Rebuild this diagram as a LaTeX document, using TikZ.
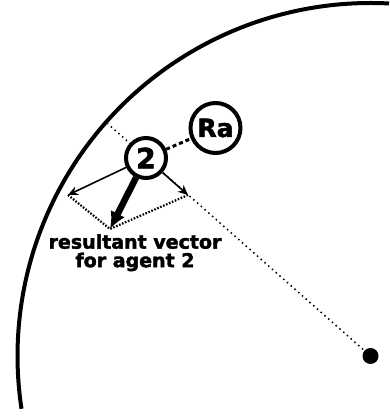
\documentclass[tikz,border=0pt]{standalone}
\usepackage{fontspec}
\newfontfamily\heavyfont[BoldFeatures={FakeBold=2}]{DejaVu Sans}
\usetikzlibrary{arrows.meta}
\definecolor{figline}{RGB}{0,0,0}
\tikzset{
  rim/.style ={draw=figline, line width=4pt},
  agt/.style ={circle, draw=figline, fill=white, line width=4pt, inner sep=0pt,
               font=\heavyfont\bfseries\fontsize{28}{28}\selectfont},
  vec/.style ={draw=figline, line width=1.6pt, -{Stealth[length=10pt,width=9pt]}},
  res/.style ={draw=figline, line width=6.5pt, -{Latex[length=17pt,width=16pt]}},
  rad/.style ={draw=figline, line width=1.5pt, dash pattern=on 1.5pt off 3.5pt},
  par/.style ={draw=figline, line width=2.2pt, dash pattern=on 1.6pt off 1.6pt},
  lnk/.style ={draw=figline, line width=3pt, dash pattern=on 4pt off 3pt},
  lab/.style ={font=\heavyfont\bfseries\fontsize{19}{18.5}\selectfont, align=center, inner sep=0pt},
}
\begin{document}
\begin{tikzpicture}[x=1pt,y=1pt]
  \useasboundingbox (0,0) rectangle (389,417);
  % sensing range and its centre
  \coordinate (ctr) at (370.5,61);
  \coordinate (far) at (108,293);
  \draw[rim] (ctr) ++(87:353pt) arc[start angle=87, end angle=188.6, radius=353pt];
  \draw[rad] (ctr) -- (far);
  \fill[figline] (ctr) circle[radius=8];
  % agents
  \node[agt, minimum size=40pt] (a2) at (146,259) {2};
  \node[agt, minimum size=50pt, font=\heavyfont\bfseries\fontsize{25}{25}\selectfont] (ra) at (215.5,289) {Ra};
  % component vectors
  \coordinate (vl) at (68,222);
  \coordinate (vr) at (188,222);
  \coordinate (vs) at (110,188);
  \draw[lnk] (a2) -- (ra);
  \draw[vec] (a2) -- (vl);
  \draw[vec] (a2) -- (vr);
  \draw[par] (vl) -- (vs);
  \draw[par] (vr) -- (vs);
  \draw[res] (a2) -- (vs);
  \node[lab, anchor=north] (cap) at (135,183) {resultant vector\\for agent 2};
\end{tikzpicture}
\end{document}
